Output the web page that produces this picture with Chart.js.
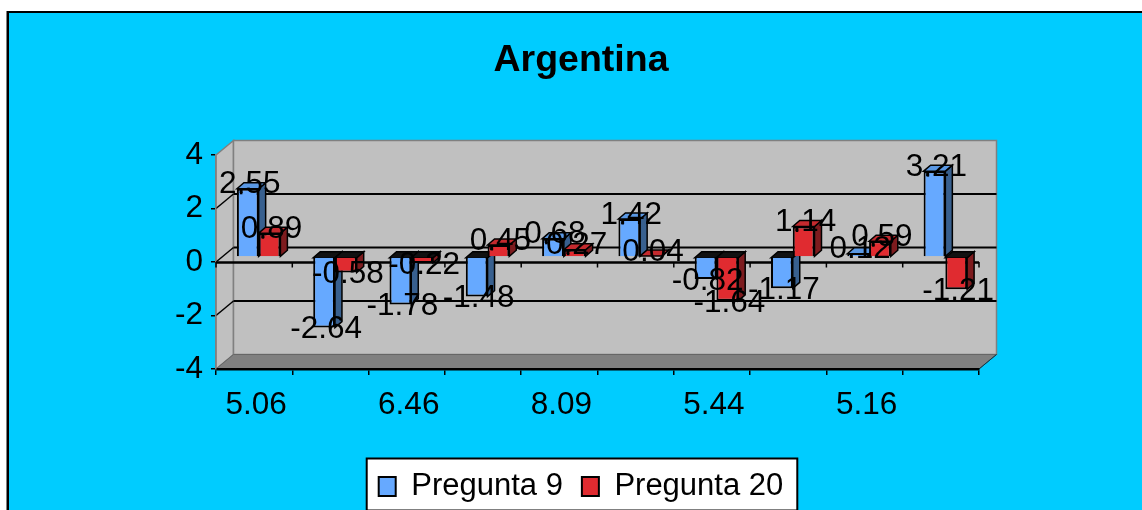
<!DOCTYPE html>
<html lang="en">
<head>
  <meta charset="UTF-8">
  <title>Argentina</title>
  <script src="https://cdn.jsdelivr.net/npm/chart.js"></script>
  <style>
    html, body { margin: 0; padding: 0; background: #fff; overflow: hidden; }
    #box { position: absolute; left: 0; top: 0; width: 1142px; height: 510px; }
  </style>
</head>
<body>
  <div id="box"><canvas id="chart" width="1142" height="510"></canvas></div>
  <script>
    // odd categories have no visible label in the picture
    const categories = ['5.06', '', '6.46', '', '8.09', '', '5.44', '', '5.16', ''];
    const pregunta9 = [2.55, -2.64, -1.78, -1.48, 0.68, 1.42, -0.82, -1.17, 0.12, 3.21];
    const pregunta20 = [0.89, -0.58, -0.22, 0.45, 0.27, 0.04, -1.64, 1.14, 0.59, -1.21];
    const yTicks = [-4, -2, 0, 2, 4];

    const FONT = 'Liberation Sans, Arial, sans-serif';
    const SHADES = [
      { front: '#66A9FF', side: '#38608F', top: '#5A98E4' },
      { front: '#E02B30', side: '#7D1B1E', top: '#C42A2E' }
    ];
    // offsets of the fake 3d projection, in px
    const BACK = { x: 17.5, y: -14.5 };
    const BAR_PLANE = { x: 4.5, y: -5 };
    const BAR_DEPTH = { x: 7, y: -6 };

    function poly(ctx, pts, fill, stroke, lw) {
      ctx.beginPath();
      pts.forEach((p, i) => i ? ctx.lineTo(p[0], p[1]) : ctx.moveTo(p[0], p[1]));
      ctx.closePath();
      if (fill) { ctx.fillStyle = fill; ctx.fill(); }
      if (stroke) { ctx.strokeStyle = stroke; ctx.lineWidth = lw || 1; ctx.stroke(); }
    }

    function line(ctx, x1, y1, x2, y2, color, lw) {
      ctx.beginPath();
      ctx.moveTo(x1, y1);
      ctx.lineTo(x2, y2);
      ctx.strokeStyle = color;
      ctx.lineWidth = lw;
      ctx.stroke();
    }

    const scene3d = {
      id: 'scene3d',
      beforeDraw(chart) {
        const { ctx, chartArea: a, scales } = chart;
        const y = scales.y;
        ctx.save();
        // chart background and outer frame
        ctx.fillStyle = '#00CCFF';
        ctx.fillRect(9, 13, 1133, 497);
        ctx.fillStyle = '#000';
        ctx.fillRect(7, 11, 1135, 2);
        ctx.fillRect(7, 11, 2, 499);
        ctx.fillStyle = '#808080';
        ctx.fillRect(6, 11, 1, 499);

        // left wall, back wall and floor
        poly(ctx, [[a.left, a.top], [a.left + BACK.x, a.top + BACK.y], [a.left + BACK.x, a.bottom + BACK.y], [a.left, a.bottom]], '#C0C0C0', '#808080', 1.5);
        poly(ctx, [[a.left + BACK.x, a.top + BACK.y], [a.right + BACK.x, a.top + BACK.y], [a.right + BACK.x, a.bottom + BACK.y], [a.left + BACK.x, a.bottom + BACK.y]], '#C0C0C0', '#808080', 1.5);
        poly(ctx, [[a.left, a.bottom], [a.right, a.bottom], [a.right + BACK.x, a.bottom + BACK.y], [a.left + BACK.x, a.bottom + BACK.y]], '#808080', '#666', 1);
        line(ctx, a.right, a.bottom, a.right + BACK.x, a.bottom + BACK.y, '#05384A', 1);

        // wall gridlines
        yTicks.slice(1, -1).forEach(v => {
          const py = y.getPixelForValue(v);
          line(ctx, a.left, py, a.left + BACK.x, py + BACK.y, '#000', 1.5);
          line(ctx, a.left + BACK.x, py + BACK.y, a.right + BACK.x, py + BACK.y, '#000', 2);
        });

        // white legend box with a black frame, around the legend items
        const hits = chart.legend.legendHitBoxes;
        const first = hits[0], last = hits[hits.length - 1];
        const fx = first.left - 12, fy = first.top - 12.5;
        const fw = last.left + last.width + 14 - fx, fh = 52;
        ctx.fillStyle = '#fff';
        ctx.strokeStyle = '#000';
        ctx.lineWidth = 2;
        ctx.fillRect(fx, fy, fw, fh);
        ctx.strokeRect(fx, fy, fw, fh);
        ctx.restore();
      },
      beforeDatasetsDraw(chart) {
        const { ctx, chartArea: a, scales } = chart;
        const zero = scales.y.getPixelForValue(0);
        ctx.save();
        // category axis crosses at zero, on the front plane
        line(ctx, a.left, zero + 0.5, a.right, zero + 0.5, '#000', 2.5);
        const step = (a.right - a.left) / categories.length;
        for (let i = 0; i <= categories.length; i++) {
          line(ctx, a.left + i * step, zero, a.left + i * step, zero + 5.5, '#000', 1.5);
        }

        // blue first, red over it; bars sit part way into the depth
        ctx.translate(BAR_PLANE.x, BAR_PLANE.y);
        chart.getSortedVisibleDatasetMetas().forEach(meta => {
          const c = SHADES[meta.index];
          meta.data.forEach(el => {
            const l = el.x - el.width / 2, r = el.x + el.width / 2;
            const top = Math.min(el.y, el.base), bot = Math.max(el.y, el.base);
            const d = BAR_DEPTH;
            poly(ctx, [[r, top], [r + d.x, top + d.y], [r + d.x, bot + d.y], [r, bot]], c.side, '#000', 1.5);
            const neg = el.y > el.base;
            poly(ctx, [[l, top], [l + d.x, top + d.y], [r + d.x, top + d.y], [r, top]], neg ? '#111' : c.top, '#000', 1.5);
          });
          meta.controller.draw();
          meta.data.forEach(el => {
            if (el.y < el.base - 6) {
              ctx.fillStyle = '#000';
              ctx.fillRect(el.x - el.width / 2 + 3, el.y + 3, 2.5, 2.5);
            }
          });
        });
        ctx.restore();
        return false;
      },
      afterDraw(chart) {
        const { ctx } = chart;
        ctx.save();
        ctx.font = '31.5px ' + FONT;
        ctx.fillStyle = '#000';
        ctx.textAlign = 'center';
        ctx.textBaseline = 'middle';
        chart.getSortedVisibleDatasetMetas().forEach(meta => {
          const vals = chart.data.datasets[meta.index].data;
          meta.data.forEach((el, i) => {
            const neg = vals[i] < 0;
            ctx.fillText(vals[i].toFixed(2), el.x + BAR_PLANE.x + 2, el.y + BAR_PLANE.y + (neg ? 2 : -4));
          });
        });
        ctx.restore();
      }
    };

    new Chart(document.getElementById('chart'), {
      type: 'bar',
      data: {
        labels: categories,
        datasets: [
          { label: 'Pregunta 9', data: pregunta9, backgroundColor: SHADES[0].front, borderColor: '#000', borderWidth: 2 },
          { label: 'Pregunta 20', data: pregunta20, backgroundColor: SHADES[1].front, borderColor: '#000', borderWidth: 2 }
        ]
      },
      options: {
        responsive: false,
        animation: false,
        categoryPercentage: 0.57,
        barPercentage: 1,
        // negative bottom: nudges the legend down a little
        layout: { padding: { left: 20, right: 0, top: 0, bottom: -2 } },
        scales: {
          x: {
            offset: true,
            grid: { offset: true, drawOnChartArea: false, color: '#000', lineWidth: 1.5, tickLength: 6 },
            border: { color: '#000', width: 2.5 },
            ticks: { autoSkip: false, maxRotation: 0, color: '#000', font: { size: 31.5, family: FONT }, padding: 11, labelOffset: 2 },
            afterFit(s) { s.height = 83; }
          },
          y: {
            min: -4,
            max: 4,
            grid: { drawOnChartArea: false, color: '#000', lineWidth: 1.5, tickLength: 5 },
            border: { color: '#808080', width: 1.5 },
            ticks: { stepSize: 2, color: '#000', font: { size: 31.5, family: FONT }, padding: 8 },
            afterFit(s) { s.width = 196; }
          },
          // empty axis, only keeps the space on the right of the plot
          pad: {
            position: 'right',
            display: true,
            grid: { display: false },
            border: { display: false },
            ticks: { display: false },
            afterFit(s) { s.width = 163; }
          }
        },
        plugins: {
          title: {
            display: true,
            text: 'Argentina',
            color: '#000',
            font: { size: 37.5, weight: 'bold', family: FONT },
            padding: { top: 38, bottom: 72 }
          },
          legend: {
            position: 'bottom',
            labels: { color: '#000', boxWidth: 17, boxHeight: 19, padding: 19, font: { size: 31, family: FONT } }
          },
          tooltip: { enabled: false }
        }
      },
      plugins: [scene3d]
    });
  </script>
</body>
</html>
